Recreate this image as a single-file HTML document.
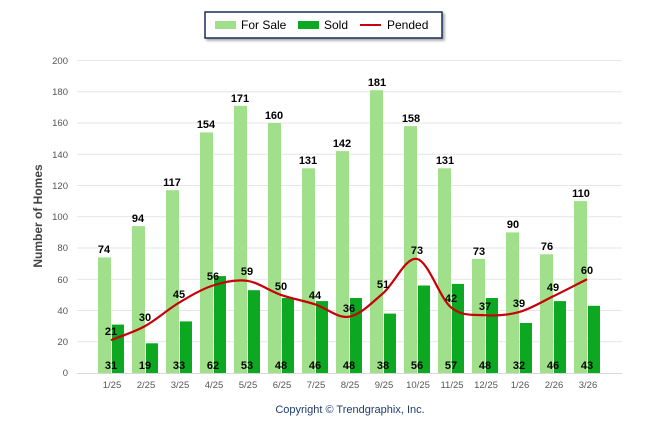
<!DOCTYPE html>
<html><head><meta charset="utf-8"><style>
html,body{margin:0;padding:0;background:#fff;}
svg{display:block;font-family:"Liberation Sans",Arial,sans-serif;}
.t{font-size:9.5px;fill:#555;}
.d{font-size:11px;font-weight:bold;fill:#000;text-anchor:middle;}
</style></head><body>
<svg width="646" height="434" viewBox="0 0 646 434">
<defs><filter id="sh" x="-10%" y="-20%" width="130%" height="160%"><feDropShadow dx="2" dy="2" stdDeviation="1.2" flood-color="#000" flood-opacity="0.35"/></filter></defs>
<g stroke="#e6e6e6" stroke-width="1">
<line x1="77" x2="622" y1="60.5" y2="60.5"/><line x1="77" x2="622" y1="91.75" y2="91.75"/><line x1="77" x2="622" y1="123" y2="123"/><line x1="77" x2="622" y1="154.25" y2="154.25"/><line x1="77" x2="622" y1="185.5" y2="185.5"/><line x1="77" x2="622" y1="216.75" y2="216.75"/><line x1="77" x2="622" y1="248" y2="248"/><line x1="77" x2="622" y1="279.25" y2="279.25"/><line x1="77" x2="622" y1="310.5" y2="310.5"/><line x1="77" x2="622" y1="341.75" y2="341.75"/>
</g>
<line x1="77" x2="622" y1="373.5" y2="373.5" stroke="#d8d8d8"/>
<g class="t" text-anchor="end">
<text x="68" y="64">200</text><text x="68" y="95">180</text><text x="68" y="126">160</text><text x="68" y="158">140</text><text x="68" y="189">120</text><text x="68" y="220">100</text><text x="68" y="251">80</text><text x="68" y="283">60</text><text x="68" y="314">40</text><text x="68" y="345">20</text><text x="68" y="376">0</text>
</g>
<text transform="translate(42,216) rotate(-90)" text-anchor="middle" style="font-size:12px;font-weight:bold;fill:#444">Number of Homes</text>
<g fill="#a0e08a">
<rect x="98" y="257.4" width="13" height="115.6"/><rect x="132" y="226.1" width="13" height="146.9"/><rect x="166" y="190.2" width="13" height="182.8"/><rect x="200" y="132.4" width="13" height="240.6"/><rect x="234" y="105.8" width="13" height="267.2"/><rect x="268" y="123" width="13" height="250"/><rect x="302" y="168.3" width="13" height="204.7"/><rect x="336" y="151.1" width="13" height="221.9"/><rect x="370" y="90.2" width="13" height="282.8"/><rect x="404" y="126.1" width="13" height="246.9"/><rect x="438" y="168.3" width="13" height="204.7"/><rect x="472" y="258.9" width="13" height="114.1"/><rect x="506" y="232.4" width="13" height="140.6"/><rect x="540" y="254.25" width="13" height="118.75"/><rect x="574" y="201.1" width="13" height="171.9"/>
</g>
<g fill="#0da822">
<rect x="112" y="324.6" width="12" height="48.4"/><rect x="146" y="343.3" width="12" height="29.7"/><rect x="180" y="321.4" width="12" height="51.6"/><rect x="214" y="276.1" width="12" height="96.9"/><rect x="248" y="290.2" width="12" height="82.8"/><rect x="282" y="298" width="12" height="75"/><rect x="316" y="301.1" width="12" height="71.9"/><rect x="350" y="298" width="12" height="75"/><rect x="384" y="313.6" width="12" height="59.4"/><rect x="418" y="285.5" width="12" height="87.5"/><rect x="452" y="283.9" width="12" height="89.1"/><rect x="486" y="298" width="12" height="75"/><rect x="520" y="323" width="12" height="50"/><rect x="554" y="301.1" width="12" height="71.9"/><rect x="588" y="305.8" width="12" height="67.2"/>
</g>
<path fill="none" stroke="#c8000a" stroke-width="2.2" d="M111,340.2 C122.3,335.5 133.7,332.35 145,326.1 C156.3,319.85 167.7,309.47 179,302.7 C190.3,295.93 201.7,289.15 213,285.5 C224.3,281.85 235.7,279.23 247,280.8 C258.3,282.37 269.7,290.98 281,294.9 C292.3,298.82 303.7,300.66 315,304.3 C326.3,307.94 337.7,318.58 349,316.75 C360.3,314.92 371.7,302.94 383,293.3 C394.3,283.66 405.7,256.55 417,258.9 C428.3,261.25 439.7,298.02 451,307.4 C462.3,316.78 473.7,314.42 485,315.2 C496.3,315.98 507.7,315.23 519,312.1 C530.3,308.97 541.7,301.88 553,296.4 C564.3,290.92 575.7,284.97 587,279.25"/>
<g class="d">
<text x="104" y="253">74</text><text x="138" y="222">94</text><text x="172" y="186">117</text><text x="206" y="128">154</text><text x="240" y="102">171</text><text x="274" y="119">160</text><text x="308" y="164">131</text><text x="342" y="147">142</text><text x="377" y="86">181</text><text x="411" y="122">158</text><text x="445" y="164">131</text><text x="479" y="255">73</text><text x="513" y="228">90</text><text x="547" y="250">76</text><text x="581" y="197">110</text>
<text x="111" y="369">31</text><text x="145" y="369">19</text><text x="179" y="369">33</text><text x="213" y="369">62</text><text x="247" y="369">53</text><text x="281" y="369">48</text><text x="315" y="369">46</text><text x="349" y="369">48</text><text x="383" y="369">38</text><text x="417" y="369">56</text><text x="451" y="369">57</text><text x="485" y="369">48</text><text x="519" y="369">32</text><text x="553" y="369">46</text><text x="587" y="369">43</text>
<text x="111" y="335">21</text><text x="145" y="321">30</text><text x="179" y="298">45</text><text x="213" y="280">56</text><text x="247" y="275">59</text><text x="281" y="290">50</text><text x="315" y="299">44</text><text x="349" y="312">36</text><text x="383" y="288">51</text><text x="417" y="254">73</text><text x="451" y="302">42</text><text x="485" y="310">37</text><text x="519" y="307">39</text><text x="553" y="291">49</text><text x="587" y="274">60</text>
</g>
<g class="t" text-anchor="middle">
<text x="112" y="388">1/25</text><text x="146" y="388">2/25</text><text x="180" y="388">3/25</text><text x="214" y="388">4/25</text><text x="248" y="388">5/25</text><text x="282" y="388">6/25</text><text x="316" y="388">7/25</text><text x="350" y="388">8/25</text><text x="384" y="388">9/25</text><text x="418" y="388">10/25</text><text x="452" y="388">11/25</text><text x="486" y="388">12/25</text><text x="520" y="388">1/26</text><text x="554" y="388">2/26</text><text x="588" y="388">3/26</text>
</g>
<text x="350" y="413" text-anchor="middle" style="font-size:11px;fill:#1f3d6b">Copyright © Trendgraphix, Inc.</text>
<rect x="205" y="12" width="237" height="26" fill="#fff" stroke="#1b2f5a" stroke-width="1.5" filter="url(#sh)"/>
<rect x="215" y="21" width="21" height="8" fill="#a0e08a"/>
<text x="241" y="29" style="font-size:12px;fill:#000">For Sale</text>
<rect x="298" y="21" width="21" height="8" fill="#0da822"/>
<text x="324" y="29" style="font-size:12px;fill:#000">Sold</text>
<line x1="360" x2="381" y1="25" y2="25" stroke="#c8000a" stroke-width="2"/>
<text x="387" y="29" style="font-size:12px;fill:#000">Pended</text>
</svg>
</body></html>
